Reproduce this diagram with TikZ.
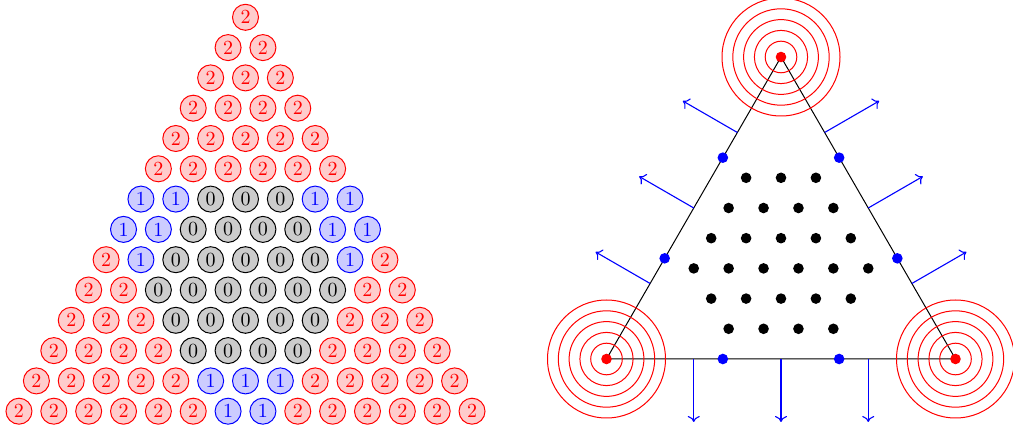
\documentclass[tikz,border=0pt]{standalone}
\usetikzlibrary{calc,arrows.meta}
\begin{document}
\begin{tikzpicture}[x=0.5pt,y=-0.5pt,
  cell/.style={circle,minimum size=13pt,inner sep=0pt,line width=0.5pt},
  val0/.style={cell,draw=black,fill=black!20,text=black},
  val1/.style={cell,draw=blue,fill=blue!20,text=blue},
  val2/.style={cell,draw=red,fill=red!20,text=red},
  bigdot/.style={circle,inner sep=0pt,minimum size=5.3pt},
  kdot/.style={bigdot,fill=black},
  bdot/.style={bigdot,fill=blue},
  rdot/.style={bigdot,fill=red},
  ring/.style={red,line width=0.5pt},
  edge/.style={black,line width=0.5pt},
  arr/.style={blue,line width=0.55pt,-{To[length=3pt,width=6pt]}}
]
\useasboundingbox (0,0) rectangle (1013,427);
% left triangle of values
\foreach \row [count=\r] in {{2},{2,2},{2,2,2},{2,2,2,2},{2,2,2,2,2},{2,2,2,2,2,2},{1,1,0,0,0,1,1},{1,1,0,0,0,0,1,1},{2,1,0,0,0,0,0,1,2},{2,2,0,0,0,0,0,0,2,2},{2,2,2,0,0,0,0,0,2,2,2},{2,2,2,2,0,0,0,0,2,2,2,2},{2,2,2,2,2,1,1,1,2,2,2,2,2},{2,2,2,2,2,2,1,1,2,2,2,2,2,2}}
  \foreach \v [count=\k] in \row
    \node[val\v] (c-\r-\k) at ({245.5+(\k-(\r+1)/2)*34.85},{17.3+(\r-1)*30.3}) {\v};
% right triangle
\coordinate (A) at (781,57);
\coordinate (B) at (606.5,359);
\coordinate (C) at (955.5,359);
\draw[edge] (A) -- (B) -- (C) -- cycle;
\foreach \P in {A,B,C} {
  \foreach \rr in {7.9,13.3,18.7,24.1,29.5}
    \draw[ring] (\P) circle[radius=\rr pt];
  \node[rdot] (v\P) at (\P) {};
}
\foreach \p/\q/\n in {A/B/L,B/C/D,C/A/R} {
  \foreach \t [count=\m] in {0.25,0.5,0.75} {
    \coordinate (a\n\m) at ($(\p)!\t!(\q)$);
    \coordinate (b\n\m) at ($(a\n\m)!31.5pt!-90:(\q)$);
    \draw[arr] (a\n\m) -- (b\n\m);
  }
  \node[bdot] (e\n1) at ($(\p)!1/3!(\q)$) {};
  \node[bdot] (e\n2) at ($(\p)!2/3!(\q)$) {};
}
\foreach \j in {1,...,6}
  \foreach \i in {1,...,6} {
    \pgfmathtruncatemacro\kk{10-\i-\j}
    \ifnum\kk>0 \ifnum\kk<7
      \node[kdot] (d-\i-\j) at ({606.5+\i*34.9+\j*17.45},{359-\j*30.2}) {};
    \fi\fi
  }
\end{tikzpicture}
\end{document}
